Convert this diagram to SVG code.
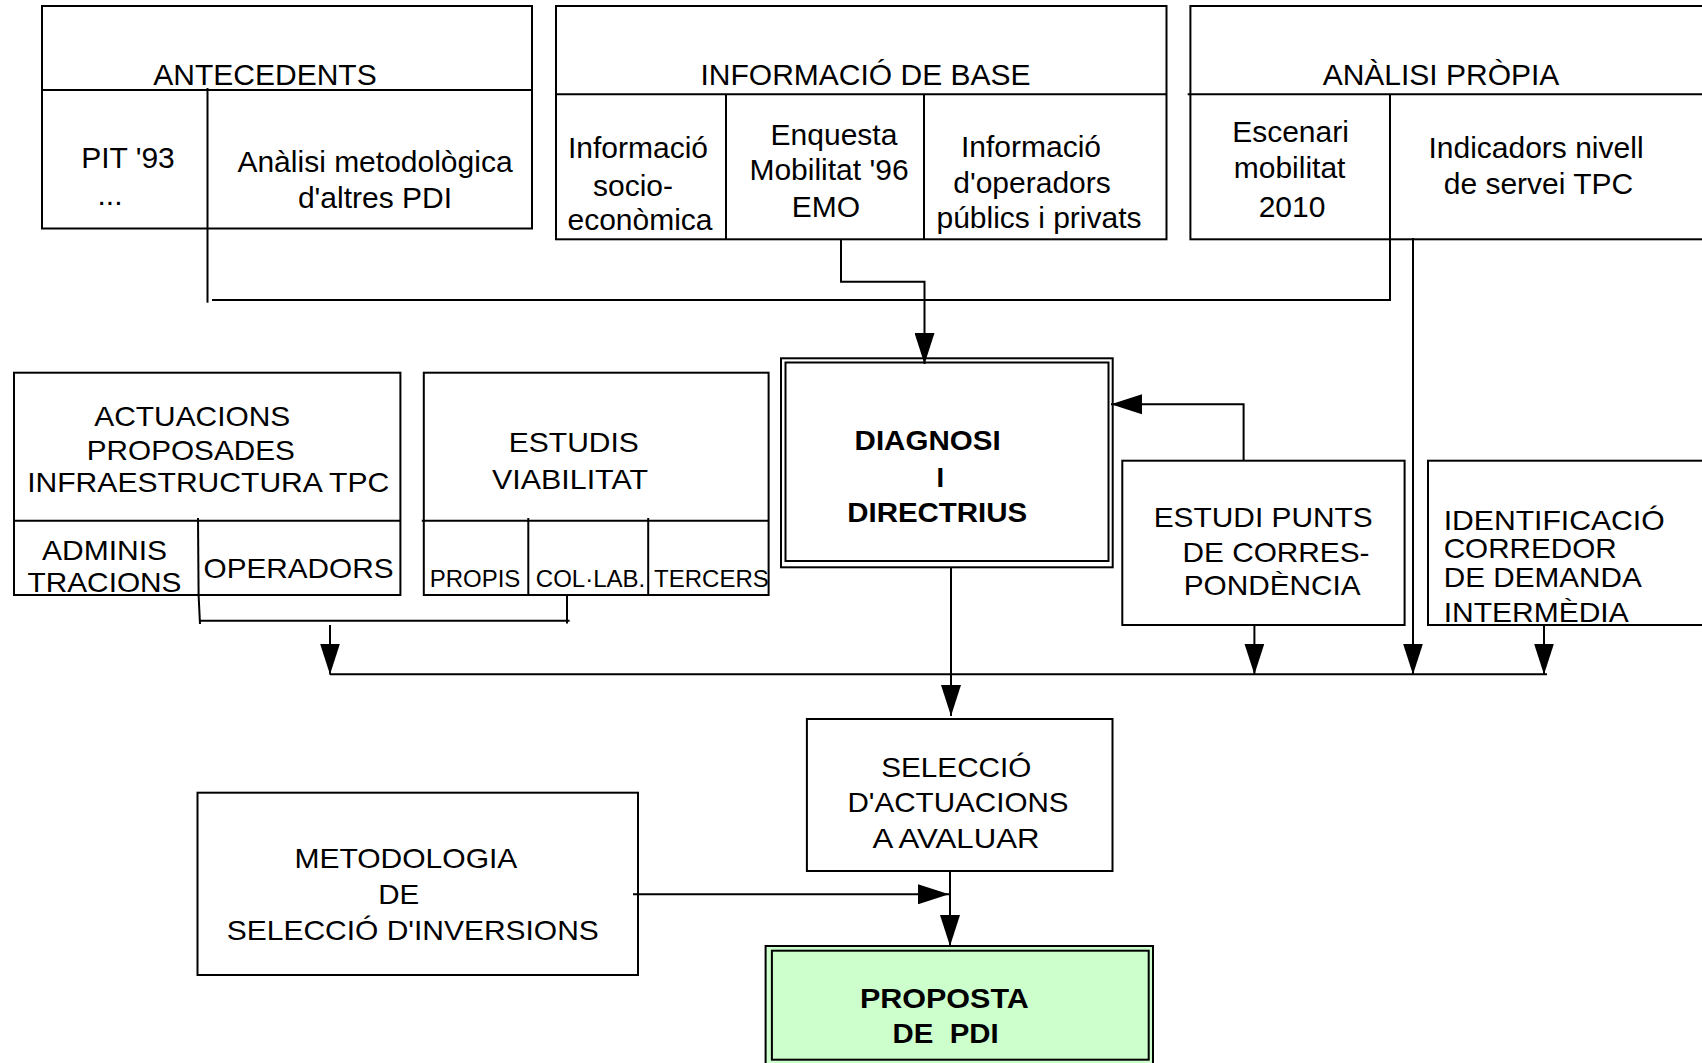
<svg xmlns="http://www.w3.org/2000/svg" width="1702" height="1063" viewBox="0 0 1702 1063">
<style>
.box{fill:#fff;stroke:#000;stroke-width:2}
.ln{fill:none;stroke:#000;stroke-width:2}
.arr{fill:none;stroke:#000;stroke-width:2;marker-end:url(#ah)}
text{font-family:"Liberation Sans",Arial,sans-serif;fill:#000;text-anchor:middle;white-space:pre}
.t30{font-size:30px}
.t28{font-size:27.5px}
.t24{font-size:24px}
.b{font-size:27.5px;font-weight:bold}
.l{text-anchor:start}
</style>
<defs>
<marker id="ah" markerUnits="userSpaceOnUse" markerWidth="32" markerHeight="20" refX="31" refY="10" orient="auto">
<path d="M0,0 L31,10 L0,20 z" fill="#000"/>
</marker>
</defs>
<rect x="0" y="0" width="1702" height="1063" fill="#fff"/>

<g id="antecedents">
<rect class="box" x="42" y="6" width="490" height="222.5"/>
<line class="ln" x1="42" y1="90" x2="532" y2="90"/>
<line class="ln" x1="207.5" y1="88" x2="207.5" y2="228.5"/>
<text class="t30" x="265" y="85">ANTECEDENTS</text>
<text class="t30" x="128" y="168">PIT '93</text>
<text class="t30" x="110" y="205">...</text>
<text class="t30" x="375" y="172">Anàlisi metodològica</text>
<text class="t30" x="375" y="208">d'altres PDI</text>
</g>

<g id="informacio-base">
<rect class="box" x="556" y="6" width="610.5" height="233.3"/>
<line class="ln" x1="556" y1="94.3" x2="1166.5" y2="94.3"/>
<line class="ln" x1="726" y1="94.3" x2="726" y2="239.3"/>
<line class="ln" x1="924" y1="94.3" x2="924" y2="239.3"/>
<text class="t30" x="865.5" y="85">INFORMACIÓ DE BASE</text>
<text class="t30" x="638" y="158">Informació</text>
<text class="t30" x="633" y="196">socio-</text>
<text class="t30" x="640" y="230">econòmica</text>
<text class="t30" x="834" y="145">Enquesta</text>
<text class="t30" x="829" y="180">Mobilitat '96</text>
<text class="t30" x="826" y="216.5">EMO</text>
<text class="t30" x="1031" y="156.5">Informació</text>
<text class="t30" x="1032" y="193">d'operadors</text>
<text class="t30" x="1039" y="228">públics i privats</text>
</g>

<g id="analisi-propia">
<rect class="box" x="1190.4" y="6" width="520" height="233.3"/>
<line class="ln" x1="1187.7" y1="94.3" x2="1710" y2="94.3"/>
<line class="ln" x1="1390" y1="94.3" x2="1390" y2="239.3"/>
<text class="t30" x="1441" y="85">ANÀLISI PRÒPIA</text>
<text class="t30" x="1290.5" y="141.5">Escenari</text>
<text class="t30" x="1289.6" y="178">mobilitat</text>
<text class="t30" x="1292" y="216.5">2010</text>
<text class="t30" x="1536" y="158">Indicadors nivell</text>
<text class="t30" x="1538.5" y="194">de servei TPC</text>
</g>

<g id="actuacions">
<rect class="box" x="14" y="372.7" width="386.4" height="222.3"/>
<line class="ln" x1="14" y1="520.7" x2="400.4" y2="520.7"/>
<line class="ln" x1="198" y1="518" x2="198.6" y2="595"/>
<text class="t28" x="192.3" y="425.7" textLength="196" lengthAdjust="spacingAndGlyphs">ACTUACIONS</text>
<text class="t28" x="190.8" y="460" textLength="208" lengthAdjust="spacingAndGlyphs">PROPOSADES</text>
<text class="t28" x="208.2" y="492.3" textLength="362" lengthAdjust="spacingAndGlyphs">INFRAESTRUCTURA TPC</text>
<text class="t28" x="104.5" y="560" textLength="125" lengthAdjust="spacingAndGlyphs">ADMINIS</text>
<text class="t28" x="104.5" y="591.7" textLength="154" lengthAdjust="spacingAndGlyphs">TRACIONS</text>
<text class="t28" x="298.5" y="578.3" textLength="190" lengthAdjust="spacingAndGlyphs">OPERADORS</text>
</g>

<g id="estudis-viabilitat">
<rect class="box" x="423.8" y="372.7" width="344.8" height="222.3"/>
<line class="ln" x1="421.8" y1="520.7" x2="768.6" y2="520.7"/>
<line class="ln" x1="528.3" y1="518" x2="528.3" y2="595"/>
<line class="ln" x1="648.2" y1="518" x2="648.2" y2="595"/>
<text class="t28" x="573.8" y="452.3" textLength="130" lengthAdjust="spacingAndGlyphs">ESTUDIS</text>
<text class="t28" x="570" y="489.3" textLength="156" lengthAdjust="spacingAndGlyphs">VIABILITAT</text>
<text class="t24" x="475" y="586.7">PROPIS</text>
<text class="t24" x="590.5" y="586.7">COL·LAB.</text>
<text class="t24" x="711.4" y="586.7">TERCERS</text>
</g>

<g id="diagnosi">
<rect class="box" x="781" y="358.3" width="331.7" height="209"/>
<rect class="box" x="785.5" y="362.5" width="323" height="198.5"/>
<text class="b" x="927.6" y="450" textLength="146" lengthAdjust="spacingAndGlyphs">DIAGNOSI</text>
<text class="b" x="940.2" y="486.7">I</text>
<text class="b" x="937.2" y="521.7" textLength="180" lengthAdjust="spacingAndGlyphs">DIRECTRIUS</text>
</g>

<g id="estudi-punts">
<rect class="box" x="1122.3" y="460.7" width="282.3" height="164.3"/>
<text class="t28" x="1263.2" y="526.7" textLength="219" lengthAdjust="spacingAndGlyphs">ESTUDI PUNTS</text>
<text class="t28" x="1276" y="561.7" textLength="187" lengthAdjust="spacingAndGlyphs">DE CORRES-</text>
<text class="t28" x="1272.2" y="595" textLength="177" lengthAdjust="spacingAndGlyphs">PONDÈNCIA</text>
</g>

<g id="identificacio">
<rect class="box" x="1428" y="460.7" width="290" height="164.3"/>
<text class="t28 l" x="1443.7" y="530" textLength="221" lengthAdjust="spacingAndGlyphs">IDENTIFICACIÓ</text>
<text class="t28 l" x="1443.7" y="558.3" textLength="173" lengthAdjust="spacingAndGlyphs">CORREDOR</text>
<text class="t28 l" x="1443.7" y="586.7" textLength="198" lengthAdjust="spacingAndGlyphs">DE DEMANDA</text>
<text class="t28 l" x="1443.7" y="621.7" textLength="185" lengthAdjust="spacingAndGlyphs">INTERMÈDIA</text>
</g>

<g id="seleccio-actuacions">
<rect class="box" x="806.9" y="719" width="305.6" height="152"/>
<text class="t28" x="956.3" y="776.7" textLength="150" lengthAdjust="spacingAndGlyphs">SELECCIÓ</text>
<text class="t28" x="958" y="812.3" textLength="221" lengthAdjust="spacingAndGlyphs">D'ACTUACIONS</text>
<text class="t28" x="956" y="848.3" textLength="167" lengthAdjust="spacingAndGlyphs">A AVALUAR</text>
</g>

<g id="metodologia">
<rect class="box" x="197.5" y="792.7" width="440.5" height="182.3"/>
<text class="t28" x="405.9" y="868.3" textLength="223" lengthAdjust="spacingAndGlyphs">METODOLOGIA</text>
<text class="t28" x="398.75" y="904" textLength="41" lengthAdjust="spacingAndGlyphs">DE</text>
<text class="t28" x="412.8" y="940" textLength="372" lengthAdjust="spacingAndGlyphs">SELECCIÓ D'INVERSIONS</text>
</g>

<g id="proposta-pdi">
<rect x="765.6" y="946" width="387.4" height="120" fill="#ccffcc" stroke="#000" stroke-width="2"/>
<rect x="771.9" y="950.7" width="376.8" height="109" fill="#ccffcc" stroke="#000" stroke-width="2"/>
<text class="b" x="944.4" y="1008.3" textLength="169" lengthAdjust="spacingAndGlyphs">PROPOSTA</text>
<text class="b" x="945.6" y="1043.3" textLength="106" lengthAdjust="spacingAndGlyphs">DE  PDI</text>
</g>

<g id="connectors">
<path class="ln" d="M207.5,228.5 V302.7"/>
<path class="ln" d="M212,300 H1390 V239.3"/>
<path class="arr" d="M841,239.3 V281.7 H924.5 V364"/>
<path class="arr" d="M1243.6,460.7 V404.3 H1111"/>
<path class="ln" d="M198.6,595 L200,624"/>
<path class="ln" d="M200,620.7 H569.6"/>
<path class="ln" d="M567,595 V623.5"/>
<path class="arr" d="M330,625 V674.5"/>
<path class="ln" d="M330,674.3 H1547"/>
<path class="arr" d="M1254.4,625 V674.5"/>
<path class="arr" d="M1413,238 V674.5"/>
<path class="arr" d="M1544,625 V674.5"/>
<path class="arr" d="M951,567.3 V716"/>
<path class="arr" d="M633,894.3 H949"/>
<path class="arr" d="M950,871 V946"/>
</g>
</svg>
